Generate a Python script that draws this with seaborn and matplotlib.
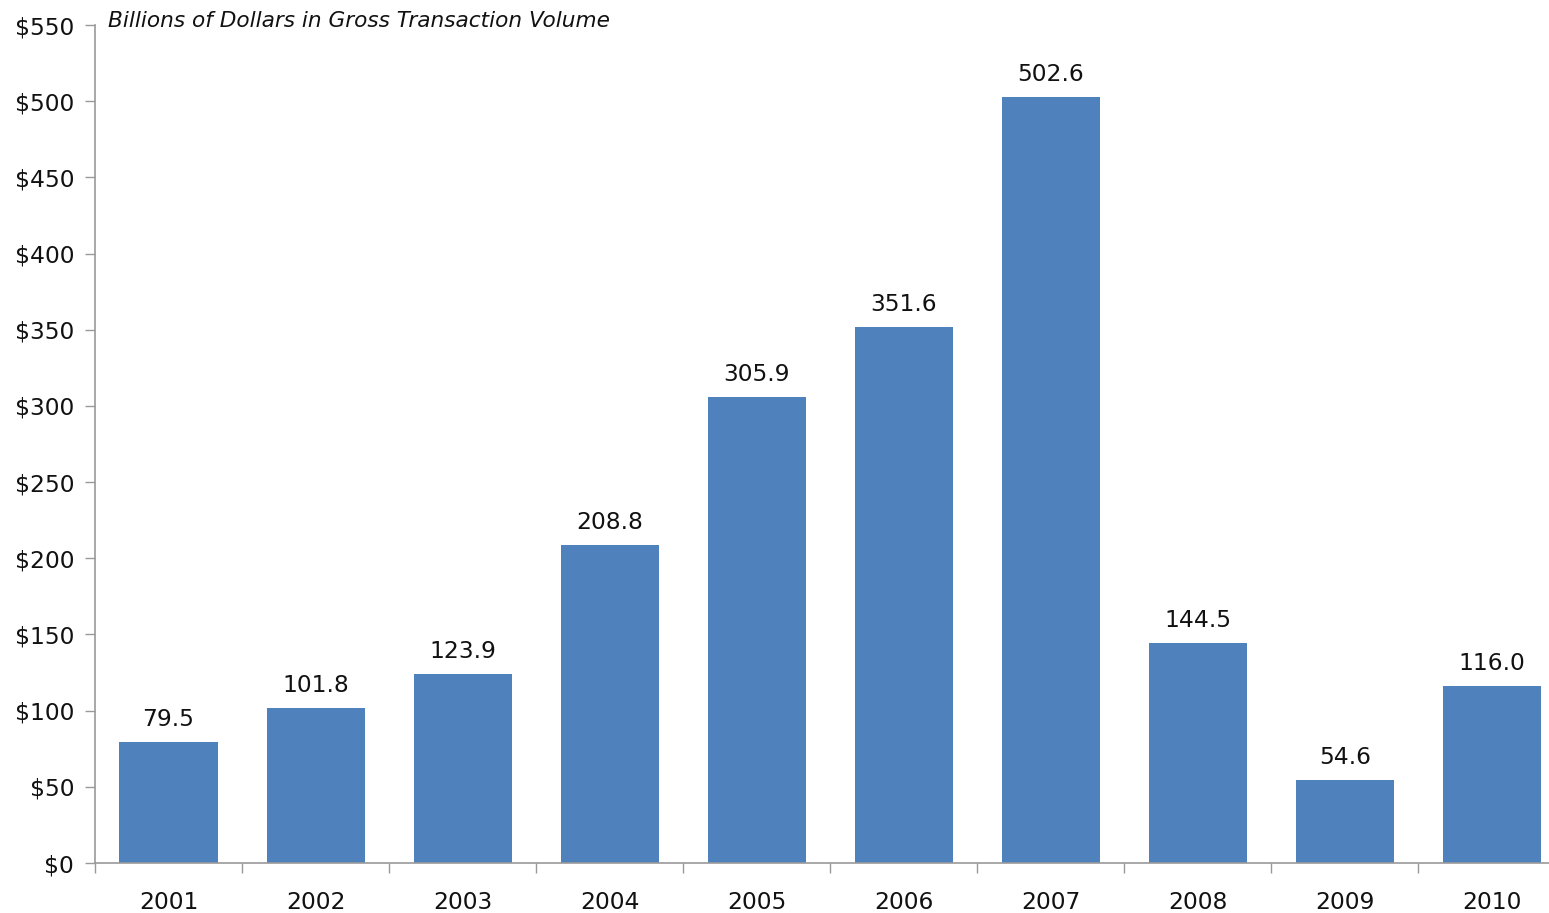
import matplotlib
matplotlib.use("Agg")
import matplotlib.pyplot as plt
import seaborn as sns
import pandas as pd

years = ["2001", "2002", "2003", "2004", "2005", "2006", "2007", "2008", "2009", "2010"]
volume = [79.5, 101.8, 123.9, 208.8, 305.9, 351.6, 502.6, 144.5, 54.6, 116.0]
y_ticks = list(range(0, 551, 50))

sns.set_theme(style="white")
plt.rcParams["font.family"] = ["DejaVu Sans"]

df = pd.DataFrame({"year": years, "volume": volume})

fig = plt.figure(figsize=(15.49, 9.13), dpi=100)
ax = fig.add_axes([95 / 1549, 50 / 913, 1470.5 / 1549, 838 / 913])

sns.barplot(data=df, x="year", y="volume", color="#4F81BD", saturation=1,
            width=0.667, ax=ax, edgecolor="none")

for i, v in enumerate(volume):
    ax.annotate(f"{v:.1f}", (i, v), xytext=(0, 8), textcoords="offset points",
                ha="center", va="bottom", fontsize=16.8, color="#111111")

ax.set_xlim(-0.5, 9.5)
ax.set_ylim(0, 550)
ax.set_yticks(y_ticks)
ax.set_yticklabels([f"${t}" for t in y_ticks], fontsize=16.8, color="#111111")
ax.set_xticks([i + 0.5 for i in range(-1, len(years))], minor=False)
ax.set_xticklabels([])
ax.set_xticks(range(len(years)), minor=True)
ax.set_xticklabels(years, minor=True, fontsize=16.8, color="#111111")
ax.tick_params(axis="x", which="major", direction="out", length=7, width=1,
               color="#999999", bottom=True)
ax.tick_params(axis="x", which="minor", length=0, pad=20, bottom=True)
ax.tick_params(axis="y", direction="out", length=7, width=1, color="#999999",
               left=True, pad=8)
ax.set_xlabel("")
ax.set_ylabel("")

for side in ["top", "right"]:
    ax.spines[side].set_visible(False)
for side in ["left", "bottom"]:
    ax.spines[side].set_color("#999999")
    ax.spines[side].set_linewidth(1.2)

fig.text(108 / 1549, 1 - 21 / 913, "Billions of Dollars in Gross Transaction Volume",
         fontsize=15.6, style="italic", ha="left", va="center", color="#111111")

fig.savefig("out.png", dpi=100)
